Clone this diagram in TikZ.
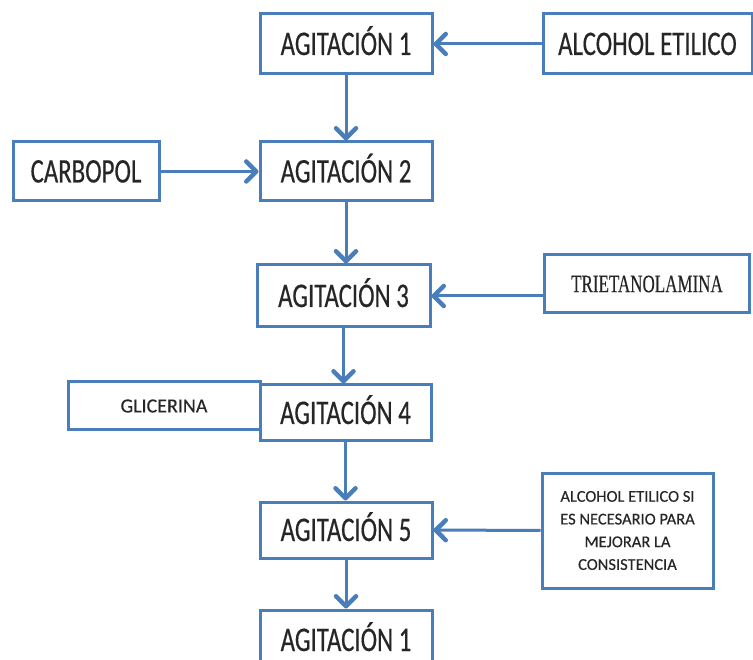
\documentclass[tikz,border=0pt]{standalone}
\usepackage{fontspec}
\setmainfont[FakeBold=0.3]{Carlito}
\newfontfamily\agfont[FakeStretch=0.72,FakeBold=0.4]{Carlito}
\newfontfamily\trifont[FakeStretch=0.68,FakeBold=0.3]{Liberation Serif}
\usetikzlibrary{arrows.meta}
\definecolor{FlowBlue}{HTML}{4A7EBB}
\definecolor{FlowText}{HTML}{262626}

\begin{document}
\begin{tikzpicture}[x=1pt,y=-1pt,
    box/.style={draw=FlowBlue,line width=3pt,fill=white,inner sep=0pt,
                minimum width=172pt,minimum height=#1,text=FlowText},
    box/.default=60pt,
    big/.style={font=\agfont\fontsize{34.5}{36}\selectfont,
                text height=22pt,text depth=0pt},
    ar/.style={-{Straight Barb[length=10pt,width=20pt,line width=4.5pt,round]},
               line width=3pt,FlowBlue}
  ]
    \clip (0,0) rectangle (753,660);
    \fill[white] (0,0) rectangle (753,660);
    % main line
    \node[box,big] (a1) at (346,44) {AGITACIÓN 1};
    \node[box=59pt,big] (a2) at (346,171.5) {AGITACIÓN 2};
    \node[box=62pt,big,minimum width=173pt] (a3) at (343.5,296) {AGITACIÓN 3};
    \node[box=48pt,minimum width=192pt,
          font=\fontsize{20}{22}\selectfont] (glic) at (164,406) {GLICERINA};
    \node[box=56pt,big,minimum width=171pt] (a4) at (345.5,413) {AGITACIÓN 4};
    \node[box=56pt,big] (a5) at (346,530) {AGITACIÓN 5};
    \node[box,big] (a6) at (346,640) {AGITACIÓN 1};
    % inputs
    \node[box,big,minimum width=209pt] (alc) at (647.5,44) {ALCOHOL ETILICO};
    \node[box=59pt,big,minimum width=146pt] (carb) at (86,171.5) {CARBOPOL};
    \node[box=58pt,minimum width=205pt,
          font=\trifont\fontsize{25}{27}\selectfont] (tri) at (647,284) {TRIETANOLAMINA};
    \node[box=115pt,minimum width=171pt,align=center,
          font=\fontsize{16.5}{22.7}\selectfont] (note) at (627.5,530.5)
         {ALCOHOL ETILICO SI\\ES NECESARIO PARA\\MEJORAR LA\\CONSISTENCIA};
    \foreach \a/\b in {a1/a2,a2/a3,a3/a4,a4/a5,a5/a6}
      \draw[ar] (\a.south) -- (\a.south |- \b.north);
    \draw[ar] (alc) -- (a1);
    \draw[ar] (carb) -- (a2);
    \draw[ar] (tri.west |- a3.east) -- (a3.east);
    \draw[ar] (note) -- (a5);
\end{tikzpicture}
\end{document}
